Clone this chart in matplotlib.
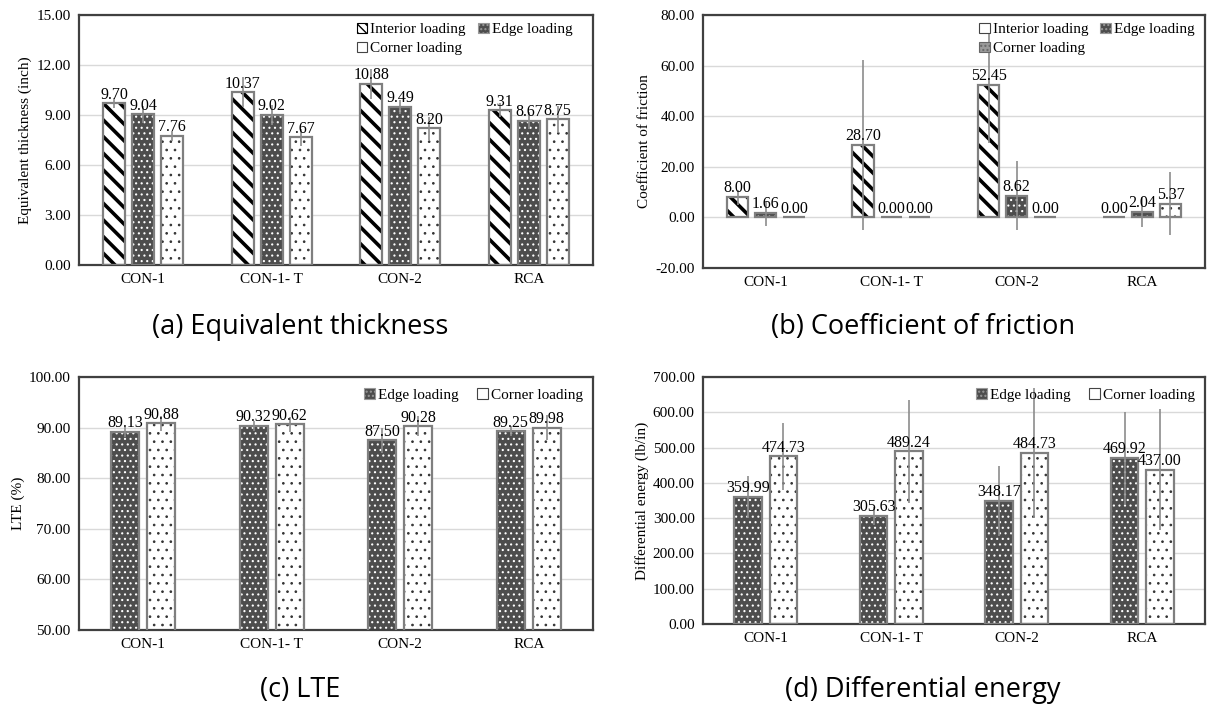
import matplotlib
matplotlib.use("Agg")
import matplotlib.pyplot as plt
import numpy as np
from matplotlib.patches import Patch

plt.rcParams['font.family'] = ['Liberation Serif', 'DejaVu Serif']

categories = ["CON-1", "CON-1- T", "CON-2", "RCA"]

# (a) Equivalent thickness
a_interior = [9.70, 10.37, 10.88, 9.31]
a_edge = [9.04, 9.02, 9.49, 8.67]
a_corner = [7.76, 7.67, 8.20, 8.75]
a_interior_err = [0.3, 0.9, 0.9, 0.4]
a_edge_err = [0.5, 0.6, 0.4, 0.5]
a_corner_err = [0.3, 0.5, 0.7, 0.8]

# (b) Coefficient of friction
b_interior = [8.00, 28.70, 52.45, 0.00]
b_edge = [1.66, 0.00, 8.62, 2.04]
b_corner = [0.00, 0.00, 0.00, 5.37]
b_interior_err = [3.0, 33.5, 23.0, 0.0]
b_edge_err = [5.0, 0.0, 13.5, 6.0]
b_corner_err = [0.0, 0.0, 0.0, 12.5]

# (c) LTE
c_edge = [89.13, 90.32, 87.50, 89.25]
c_corner = [90.88, 90.62, 90.28, 89.98]
c_edge_err = [1.0, 1.0, 2.5, 1.0]
c_corner_err = [1.5, 1.5, 2.0, 2.5]

# (d) Differential energy
d_edge = [359.99, 305.63, 348.17, 469.92]
d_corner = [474.73, 489.24, 484.73, 437.00]
d_edge_err = [60, 25, 100, 130]
d_corner_err = [95, 146, 184, 172]

W, H = 1213, 704
fig = plt.figure(figsize=(W / 100, H / 100), dpi=100)

def ax_at(l, t, r, b):
    return fig.add_axes([l / W, 1 - b / H, (r - l) / W, (b - t) / H])

GRAY_EDGE = '#7f7f7f'
ERR = '#8c8c8c'
EDGE_FILL = '#4d4d4d'

def draw_bars(ax, x, vals, errs, kind, width):
    if kind == 'interior':
        with plt.rc_context({'hatch.linewidth': 2.6}):
            ax.bar(x, vals, width, facecolor='white', edgecolor='black',
                   hatch='\\\\', linewidth=0, zorder=2)
    elif kind == 'edge':
        with plt.rc_context({'hatch.linewidth': 0.8}):
            ax.bar(x, vals, width, facecolor=EDGE_FILL, edgecolor='white',
                   hatch='...', linewidth=0, zorder=2)
    else:
        with plt.rc_context({'hatch.linewidth': 0.7}):
            ax.bar(x, vals, width, facecolor='white', edgecolor='#333333',
                   hatch='..', linewidth=0, zorder=2)
    ax.bar(x, vals, width, fill=False, edgecolor=GRAY_EDGE, linewidth=1.6, zorder=3)
    ax.errorbar(x, vals, yerr=errs, fmt='none', ecolor=ERR, elinewidth=1.2,
                capsize=0, zorder=4)

def label_bars(ax, x, vals, dy):
    for xi, v in zip(x, vals):
        ax.text(xi, v + dy, f"{v:.2f}", ha='center', va='bottom', fontsize=11.5,
                zorder=5)

def style_axes(ax, ylim, yticks, ylabel):
    ax.set_xlim(-0.5, 3.5)
    ax.set_ylim(*ylim)
    ax.set_yticks(yticks)
    ax.set_yticklabels([f"{t:.2f}" for t in yticks], fontsize=11)
    ax.set_xticks(range(4))
    ax.set_xticklabels(categories, fontsize=11)
    ax.tick_params(axis='both', length=0, pad=6)
    ax.yaxis.grid(True, color='#d9d9d9', linewidth=1.0, zorder=0)
    ax.set_axisbelow(True)
    for s in ax.spines.values():
        s.set_color('#404040')
        s.set_linewidth(1.6)
    ax.set_ylabel(ylabel, fontsize=11, labelpad=3)

def handle(k):
    if k == 'interior':
        return Patch(facecolor='white', edgecolor='black', hatch='\\\\\\\\', linewidth=0.8)
    if k == 'edge':
        return Patch(facecolor=EDGE_FILL, edgecolor='#999999', hatch='....', linewidth=0.8)
    if k == 'grayish':
        return Patch(facecolor='#9a9a9a', edgecolor='#666666', hatch='....', linewidth=0.8)
    return Patch(facecolor='white', edgecolor='#444444', linewidth=0.8)

LEG = dict(frameon=False, fontsize=11, handlelength=0.7, handleheight=0.7,
           handletextpad=0.2, labelspacing=0.35, loc='upper right')

x = np.arange(4)
step, w = 0.225, 0.17
step2, w2 = 0.28, 0.22

# ---------- (a)
axa = ax_at(79, 15, 593, 265)
draw_bars(axa, x - step, a_interior, a_interior_err, 'interior', w)
draw_bars(axa, x, a_edge, a_edge_err, 'edge', w)
draw_bars(axa, x + step, a_corner, a_corner_err, 'corner', w)
for off, vals in [(-step, a_interior), (0, a_edge), (step, a_corner)]:
    label_bars(axa, x + off, vals, 0.02)
style_axes(axa, (0, 15), [0, 3, 6, 9, 12, 15], "Equivalent thickness (inch)")
# order so that rows read: Interior, Edge / Corner
axa.legend([handle('interior'), handle('corner'), handle('edge')],
           ["Interior loading", "Corner loading", "Edge loading"],
           ncol=2, bbox_to_anchor=(0.975, 1.0), columnspacing=0.8,
           borderaxespad=0.1, **LEG)

# ---------- (b)
axb = ax_at(703, 15, 1205, 268)
draw_bars(axb, x - step, b_interior, b_interior_err, 'interior', w)
draw_bars(axb, x, b_edge, b_edge_err, 'edge', w)
draw_bars(axb, x + step, b_corner, b_corner_err, 'corner', w)
for off, vals in [(-step, b_interior), (0, b_edge), (step, b_corner)]:
    label_bars(axb, x + off, vals, 0.3)
style_axes(axb, (-20, 80), [-20, 0, 20, 40, 60, 80], "Coefficient of friction")
axb.legend([handle('corner'), handle('grayish'), handle('edge')],
           ["Interior loading", "Corner loading", "Edge loading"],
           ncol=2, bbox_to_anchor=(0.995, 1.0), columnspacing=0.8,
           borderaxespad=0.1, **LEG)

# ---------- (c)
axc = ax_at(79, 377, 593, 630)
draw_bars(axc, x - step2 / 2, c_edge, c_edge_err, 'edge', w2)
draw_bars(axc, x + step2 / 2, c_corner, c_corner_err, 'corner', w2)
label_bars(axc, x - step2 / 2, c_edge, 0.1)
label_bars(axc, x + step2 / 2, c_corner, 0.1)
style_axes(axc, (50, 100), [50, 60, 70, 80, 90, 100], "LTE (%)")
axc.legend([handle('edge'), handle('corner')], ["Edge loading", "Corner loading"],
           ncol=2, bbox_to_anchor=(0.995, 0.985), columnspacing=1.2,
           borderaxespad=0.1, **LEG)

# ---------- (d)
axd = ax_at(703, 377, 1205, 624)
draw_bars(axd, x - step2 / 2, d_edge, d_edge_err, 'edge', w2)
draw_bars(axd, x + step2 / 2, d_corner, d_corner_err, 'corner', w2)
label_bars(axd, x - step2 / 2, d_edge, 2)
label_bars(axd, x + step2 / 2, d_corner, 2)
style_axes(axd, (0, 700), [0, 100, 200, 300, 400, 500, 600, 700],
           "Differential energy (lb/in)")
axd.legend([handle('edge'), handle('corner')], ["Edge loading", "Corner loading"],
           ncol=2, bbox_to_anchor=(0.995, 0.985), columnspacing=1.2,
           borderaxespad=0.1, **LEG)

# panel captions
cap = dict(fontsize=19.5, family=['Open Sans', 'DejaVu Sans'], ha='center', va='center')
fig.text(300 / W, 1 - 327 / H, "(a) Equivalent thickness", **cap)
fig.text(923 / W, 1 - 327 / H, "(b) Coefficient of friction", **cap)
fig.text(300 / W, 1 - 690 / H, "(c) LTE", **cap)
fig.text(923 / W, 1 - 690 / H, "(d) Differential energy", **cap)

fig.savefig("out.png", dpi=100, facecolor='white')
